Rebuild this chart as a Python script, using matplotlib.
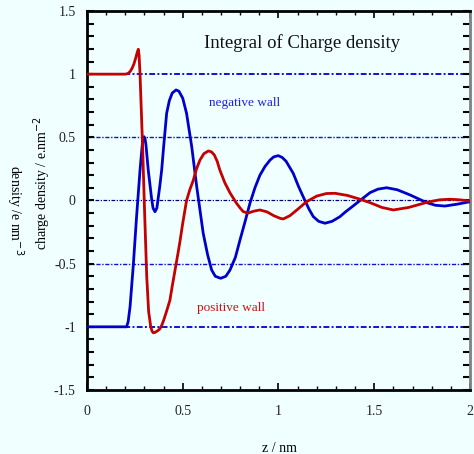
import matplotlib.pyplot as plt
from matplotlib.ticker import MultipleLocator

plt.rcParams['font.family'] = ['Liberation Serif', 'DejaVu Serif']

# positive wall (red)
z_pos = [0, 0.20, 0.214, 0.225, 0.235, 0.245, 0.255, 0.262, 0.268, 0.272, 0.277,
         0.284, 0.291, 0.30, 0.312, 0.322, 0.333, 0.34, 0.346, 0.353, 0.36, 0.37,
         0.381, 0.39, 0.40, 0.415, 0.433, 0.445, 0.46, 0.475, 0.486, 0.50, 0.52,
         0.537, 0.555, 0.572, 0.59, 0.61, 0.634, 0.65, 0.665, 0.68, 0.694, 0.72,
         0.747, 0.78, 0.80, 0.816, 0.84, 0.87, 0.903, 0.94, 0.975, 1.01, 1.025,
         1.06, 1.10, 1.147, 1.2, 1.25, 1.295, 1.36, 1.426, 1.478, 1.54, 1.6, 1.68,
         1.774, 1.84, 1.896, 1.95, 2.0]
q_pos = [1.0, 1.0, 1.005, 1.02, 1.045, 1.08, 1.13, 1.17, 1.197, 1.15, 1.0,
         0.7, 0.4, -0.05, -0.6, -0.88, -1.0, -1.035, -1.047, -1.045, -1.04, -1.03,
         -1.015, -0.99, -0.95, -0.88, -0.79, -0.68, -0.55, -0.42, -0.32, -0.18, 0.0,
         0.085, 0.16, 0.25, 0.32, 0.37, 0.392, 0.385, 0.36, 0.31, 0.24, 0.14,
         0.06, -0.02, -0.06, -0.088, -0.1, -0.085, -0.075, -0.09, -0.12, -0.142, -0.146,
         -0.12, -0.07, -0.009, 0.035, 0.055, 0.057, 0.04, 0.01, -0.017, -0.055, -0.075, -0.055,
         -0.015, 0.005, 0.01, 0.005, -0.005]

# negative wall (blue)
z_neg = [0, 0.207, 0.215, 0.225, 0.242, 0.259, 0.277, 0.288, 0.293, 0.298, 0.303,
         0.308, 0.32, 0.337, 0.345, 0.355, 0.365, 0.372, 0.38, 0.39, 0.40, 0.416,
         0.43, 0.445, 0.465, 0.48, 0.50, 0.52, 0.547, 0.573, 0.607, 0.63, 0.651,
         0.67, 0.698, 0.725, 0.747, 0.775, 0.799, 0.825, 0.851, 0.877, 0.903, 0.93,
         0.956, 0.975, 0.999, 1.02, 1.04, 1.077, 1.105, 1.138, 1.16, 1.182, 1.21,
         1.243, 1.28, 1.321, 1.35, 1.38, 1.426, 1.478, 1.52, 1.565, 1.62, 1.687,
         1.774, 1.82, 1.869, 1.93, 2.0]
q_neg = [-1.0, -1.0, -0.96, -0.84, -0.51, -0.128, 0.24, 0.43, 0.49, 0.505, 0.49,
         0.44, 0.24, 0.02, -0.06, -0.089, -0.06, 0.02, 0.11, 0.24, 0.42, 0.69,
         0.79, 0.85, 0.875, 0.865, 0.81, 0.69, 0.426, 0.11, -0.26, -0.43, -0.55,
         -0.6, -0.616, -0.6, -0.55, -0.45, -0.313, -0.17, -0.022, 0.1, 0.2, 0.27,
         0.32, 0.345, 0.355, 0.34, 0.31, 0.215, 0.11, 0.0, -0.07, -0.128, -0.165,
         -0.18, -0.165, -0.128, -0.09, -0.055, 0.0, 0.062, 0.09, 0.101, 0.085, 0.044,
         -0.017, -0.038, -0.044, -0.03, -0.01]

ref_levels = [1, 0.5, 0, -0.5, -1]

bg = '#f0ffff'
fig = plt.figure(figsize=(4.74, 4.54), dpi=100, facecolor=bg)
ax = fig.add_axes([0.1835, 0.141, 0.808, 0.8348], facecolor=bg)

dashdot = (0, (3, 1.2, 1, 1.2))
for lv in ref_levels:
    if lv == 0:
        ax.axhline(lv, color='#000080', lw=0.9, ls=dashdot, zorder=1)
    elif abs(lv) == 1:
        ax.axhline(lv, color='#1010dd', lw=1.4, ls=dashdot, zorder=1)
    else:
        ax.axhline(lv, color='#1010dd', lw=1.0, ls=dashdot, zorder=1)

ax.plot(z_neg, q_neg, color='#0000cc', lw=2, solid_joinstyle='round', zorder=3)
ax.plot(z_pos, q_pos, color='#c40000', lw=2, solid_joinstyle='round', zorder=3)

ax.set_xlim(0, 2)
ax.set_ylim(-1.5, 1.5)
ax.xaxis.set_major_locator(MultipleLocator(0.5))
ax.xaxis.set_minor_locator(MultipleLocator(0.1))
ax.yaxis.set_major_locator(MultipleLocator(0.5))
ax.yaxis.set_minor_locator(MultipleLocator(0.1))
ax.xaxis.set_major_formatter(plt.FuncFormatter(lambda v, p: f'{v:g}'))
ax.yaxis.set_major_formatter(plt.FuncFormatter(lambda v, p: f'{v:g}'))

ax.tick_params(which='both', direction='in', top=True, right=True,
               labelsize=10, colors='black', labelcolor='#222222')
ax.tick_params(axis='y', which='both', length=5, width=1.5, pad=8)
ax.tick_params(axis='x', which='major', length=5, width=1.2, pad=11)
ax.tick_params(axis='x', which='minor', length=3, width=1)

for side in ['left', 'bottom', 'top']:
    ax.spines[side].set_linewidth(2)
    ax.spines[side].set_color('black')
ax.spines['right'].set_linewidth(2)
ax.spines['right'].set_color('#808080')

ax.text(1.123, 1.247, 'Integral of Charge density', fontsize=13.5,
        ha='center', va='center', color='#111111')
ax.text(0.822, 0.772, 'negative wall', fontsize=9.5, ha='center',
        va='center', color='#2020dd')
ax.text(0.752, -0.85, 'positive wall', fontsize=9.5, ha='center',
        va='center', color='#cc1010')

fig.text(279 / 474, 1 - 448 / 454, 'z / nm', fontsize=10, ha='center', va='center')
fig.text(42 / 474, 1 - 183 / 454, 'charge density / e.nm$^{-2}$', fontsize=10,
         rotation=90, ha='center', va='center')
fig.text(15 / 474, 1 - 210 / 454, 'density /e nm$^{-3}$', fontsize=10,
         rotation=-90, ha='center', va='center')

fig.savefig('out.png', dpi=100, facecolor=bg)
